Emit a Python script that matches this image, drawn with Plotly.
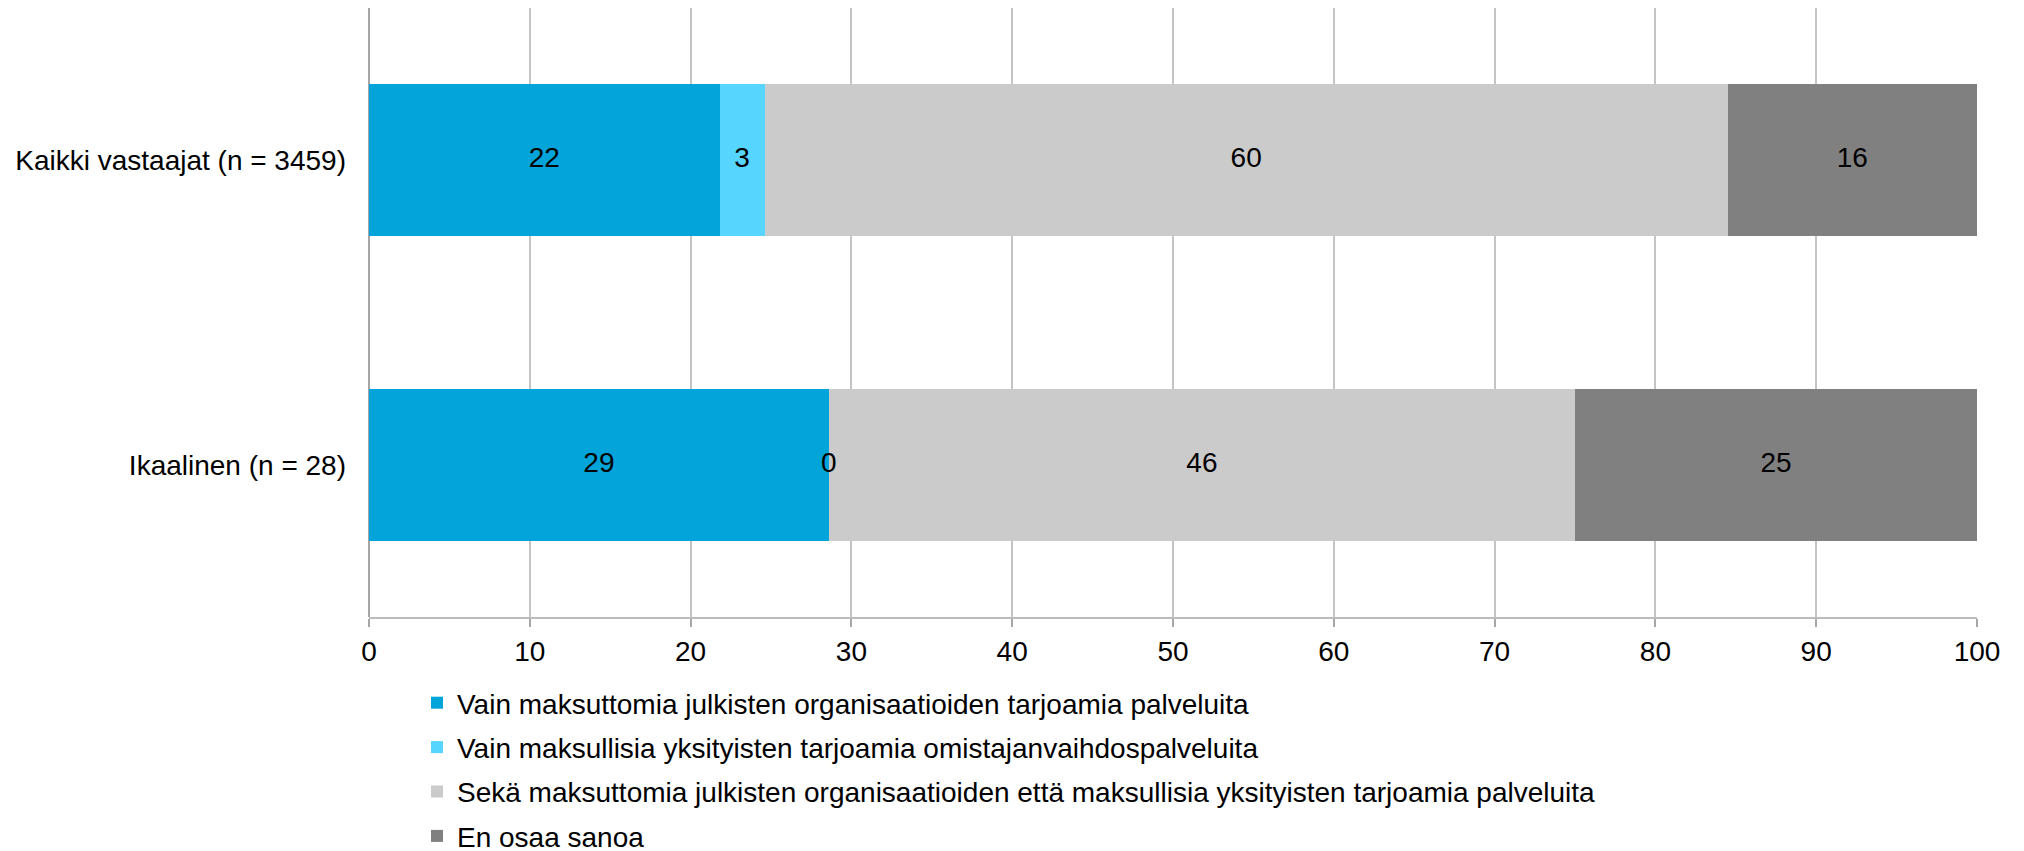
import plotly.graph_objects as go

# Survey groups (top to bottom) and answer shares in percent
groups = ["Kaikki vastaajat (n = 3459)", "Ikaalinen (n = 28)"]
series_names = [
    "Vain maksuttomia julkisten organisaatioiden tarjoamia palveluita",
    "Vain maksullisia yksityisten tarjoamia omistajanvaihdospalveluita",
    "Sekä maksuttomia julkisten organisaatioiden että maksullisia yksityisten tarjoamia palveluita",
    "En osaa sanoa",
]
free_public = [21.8, 28.6]
paid_private = [2.8, 0.0]
both = [59.9, 46.4]
cannot_say = [15.5, 25.0]
series_values = [free_public, paid_private, both, cannot_say]
colors = ["#03A4D9", "#55D5FF", "#CBCBCB", "#808080"]
x_ticks = [0, 10, 20, 30, 40, 50, 60, 70, 80, 90, 100]

FONT = "Liberation Sans, Arial, sans-serif"

fig = go.Figure()
for i, (name, vals, col) in enumerate(zip(series_names, series_values, colors)):
    fig.add_trace(go.Bar(
        y=groups, x=vals, name=name, orientation="h",
        marker=dict(color=col, line=dict(width=0)),
        width=0.5, legendgroup=f"g{i}", hoverinfo="x+name",
    ))

# Value labels centred on each segment (zero-width segments included)
lab_x, lab_y, lab_t = [], [], []
for gi, g in enumerate(groups):
    start = 0.0
    for vals in series_values:
        v = vals[gi]
        lab_x.append(start + v / 2)
        lab_y.append(g)
        lab_t.append(f"{v:.0f}")
        start += v
fig.add_trace(go.Scatter(
    x=lab_x, y=lab_y, text=lab_t, mode="text",
    textfont=dict(family=FONT, size=28, color="#000000"),
    showlegend=False, hoverinfo="skip",
))

fig.update_layout(
    width=2024, height=851,
    barmode="stack",
    plot_bgcolor="white", paper_bgcolor="white",
    margin=dict(l=369, r=47, t=8, b=234, autoexpand=False),
    font=dict(family=FONT, size=28, color="#000000"),
    showlegend=True,
    legend=dict(
        xref="container", yref="container",
        x=417 / 2024, y=1 - 678 / 851, xanchor="left", yanchor="top",
        traceorder="grouped", tracegroupgap=5,
        itemwidth=30, font=dict(family=FONT, size=28, color="#000000"),
        bgcolor="rgba(0,0,0,0)",
    ),
    xaxis=dict(
        range=[0, 100], tickvals=x_ticks, ticktext=[str(t) for t in x_ticks],
        showgrid=True, gridcolor="#C4C4C4", gridwidth=2,
        zeroline=True, zerolinecolor="#A6A6A6", zerolinewidth=2,
        showline=True, linecolor="#BCBCBC", linewidth=2,
        ticks="outside", ticklen=8, tickwidth=2, tickcolor="#A6A6A6",
        fixedrange=True,
    ),
    yaxis=dict(
        categoryorder="array", categoryarray=groups[::-1],
        range=[-0.5, 1.5], showgrid=False, zeroline=False, showline=False,
        ticks="", ticklabelstandoff=22, fixedrange=True,
    ),
)

fig.write_html("out.html")
